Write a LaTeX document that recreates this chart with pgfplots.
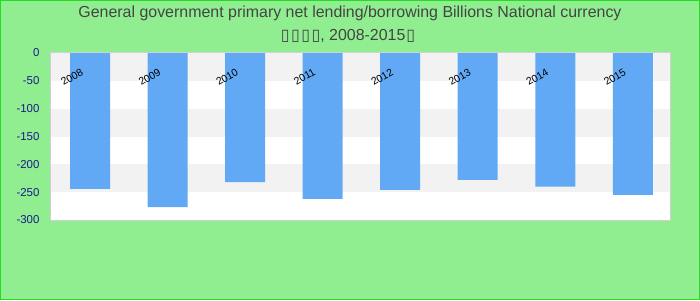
\documentclass[border=0pt]{standalone}
\usepackage{pgfplots}
\pgfplotsset{compat=1.18}
\usepackage{fontspec}
\setmainfont{Liberation Sans}
\newfontfamily\symfont{DejaVu Sans}
\definecolor{bggreen}{HTML}{90EE90}
\definecolor{bordergreen}{HTML}{22DD22}
\definecolor{barblue}{HTML}{62A9F5}
\definecolor{bandgray}{HTML}{F2F2F2}
\definecolor{tickblue}{HTML}{1A1A8C}
\definecolor{titlegray}{HTML}{444444}
\newcommand{\tofu}{{\symfont ▯}}
\begin{document}
\begin{tikzpicture}[x=1bp,y=1bp]
\fill[bggreen] (0,0) rectangle (700,300);
\draw[bordergreen,line width=1bp] (0.5,0.5) rectangle (699.5,299.5);
\node[titlegray,font=\fontsize{16}{19}\selectfont] at (350,287) {General government primary net lending/borrowing Billions National currency};
\node[titlegray,font=\fontsize{16}{19}\selectfont] at (348,264) {\tofu\kern1.5bp\tofu\kern1.5bp\tofu\kern1.5bp\tofu, 2008-2015\kern1bp\tofu};
\begin{axis}[
  at={(50bp,80bp)}, anchor=south west,
  scale only axis, width=620bp, height=167bp,
  xmin=-0.516, xmax=7.48, ymin=-300, ymax=0,
  axis background/.style={fill=white},
  axis on top,
  axis line style={draw=black!18, line width=1bp},
  major tick length=0pt,
  xtick={0,...,7},
  xticklabels={2008,2009,2010,2011,2012,2013,2014,2015},
  xticklabel pos=upper,
  xticklabel style={anchor=center, xshift=-18bp, yshift=-24bp, rotate=30, font=\fontsize{10.5}{12}\selectfont, text=black},
  ytick={-300,-250,-200,-150,-100,-50,0},
  yticklabels={-300,-250,-200,-150,-100,-50,0},
  yticklabel style={font=\fontsize{11.5}{13}\selectfont, text=tickblue, xshift=-7bp},
  ybar, bar width=40bp,
  clip=false,
]
\fill[bandgray] (axis cs:-0.516,0) rectangle (axis cs:7.48,-50);
\fill[bandgray] (axis cs:-0.516,-100) rectangle (axis cs:7.48,-150);
\fill[bandgray] (axis cs:-0.516,-200) rectangle (axis cs:7.48,-250);
\addplot[fill=barblue, draw=none, bar shift=0pt] coordinates {
(0,-244) (1,-277) (2,-232) (3,-262) (4,-246) (5,-228) (6,-240) (7,-255)};
\end{axis}
\end{tikzpicture}
\end{document}
